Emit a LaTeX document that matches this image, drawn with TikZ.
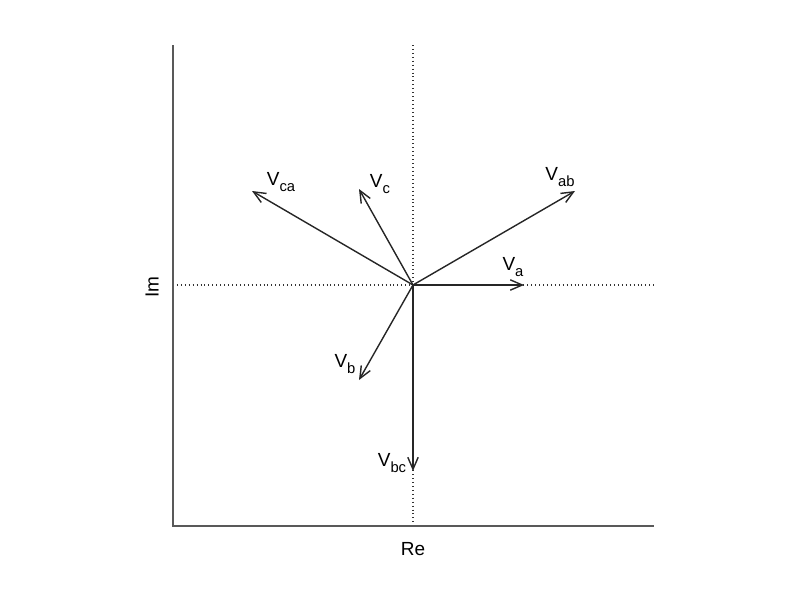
\documentclass[tikz,border=0pt]{standalone}
\usepackage{fontspec}
\setmainfont{Liberation Sans}
\usetikzlibrary{arrows.meta}
\newcommand{\vsub}[1]{V\raisebox{-0.55ex}{\fontsize{10.5}{11}\selectfont #1}}
\tikzset{
  vec/.style={line width=1pt, draw=black!85, -{Straight Barb[length=3mm,width=2.6mm,line width=1pt]}},
  axis/.style={line width=0.9pt, draw=black!65},
  guide/.style={line width=0.8pt, draw=black!80, dash pattern=on 0.5pt off 2.3pt},
  lab/.style={font=\fontsize{13.5}{15}\selectfont, inner sep=0pt}
}
\begin{document}
\begin{tikzpicture}[x=0.25mm,y=-0.25mm]
            \useasboundingbox (0,0) rectangle (800,591);
            % frame and dotted guides
            \coordinate (tl) at (173,45);
            \coordinate (bl) at (173,526);
            \coordinate (br) at (654,526);
            \draw [guide] (413,45) -- (413,526);
            \draw [guide] (173,285) -- (654,285);
            \draw [axis] (tl) -- (bl) -- (br);
            \node [lab, rotate=90] (im) at (152,287) {Im};
            \node [lab] (re) at (413,549) {Re};
            % phasors
            \coordinate (O) at (413,285);
            \coordinate (a) at (524,285);
            \coordinate (ab) at (575,191);
            \coordinate (c) at (359,189);
            \coordinate (ca) at (252,191);
            \coordinate (b) at (359,380);
            \coordinate (bc) at (413,471);
            \foreach \p in {a,ab,c,ca,b,bc}
              \draw [vec] (O) -- (\p);
            \node [lab] (la) at (513,267) {\vsub{a}};
            \node [lab] (lab) at (560,177) {\vsub{ab}};
            \node [lab] (lc) at (380,184) {\vsub{c}};
            \node [lab] (lca) at (281,182) {\vsub{ca}};
            \node [lab] (lb) at (345,364) {\vsub{b}};
            \node [lab] (lbc) at (392,463) {\vsub{bc}};
\end{tikzpicture}
\end{document}
